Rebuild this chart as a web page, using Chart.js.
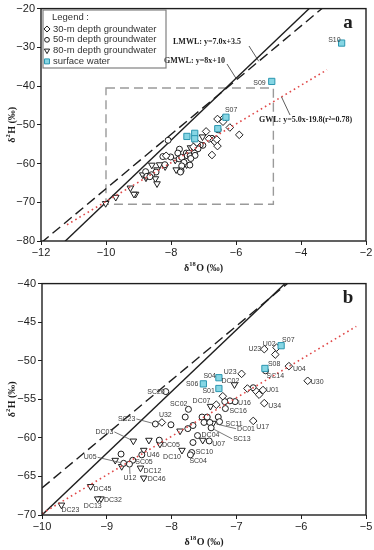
<!DOCTYPE html>
<html>
<head>
<meta charset="utf-8">
<script src="https://cdn.jsdelivr.net/npm/chart.js@4.4.1/dist/chart.umd.min.js"></script>
<style>
  html, body { margin: 0; padding: 0; background: #fff; }
  canvas { display: block; }
</style>
</head>
<body>
<canvas id="chartA" width="374" height="275"></canvas>
<canvas id="chartB" width="374" height="275"></canvas>
<script>
// ---- data ----
// 30-m depth groundwater (diamonds)
const gw30X = [-6.38, -6.40, -6.57, -6.19, -5.90, -6.92, -6.83, -6.69, -6.65, -6.59, -7.21, -6.57, -7.31, -8.15, -6.74];
const gw30Y = [-48.3, -49.2, -48.5, -50.7, -52.6, -51.7, -53.6, -54.0, -54.4, -53.8, -54.6, -55.5, -55.7, -58.0, -57.8];
const gw30Names = ["U02", "", "U23", "U04", "U30", "U23", "", "", "", "U01", "", "U34", "", "U32", "U17"];

// 50-m depth groundwater (circles)
const gw50X = [-6.55, -6.74, -8.09, -7.02, -7.10, -7.18, -7.74, -7.17, -8.25, -8.01, -7.79, -7.75, -7.67, -7.53, -7.45,
               -7.50, -7.41, -7.28, -7.26, -7.39, -7.60, -7.67, -7.42, -8.19, -7.69, -7.71, -8.46, -8.78, -8.74, -8.60, -8.65];
const gw50Y = [-51.3, -53.5, -54.0, -55.3, -55.2, -55.3, -56.3, -56.2, -58.2, -58.3, -57.3, -58.8, -58.4, -57.3, -57.3,
               -58.0, -58.0, -57.3, -57.9, -58.7, -59.7, -60.6, -60.4, -60.3, -61.9, -62.2, -62.2, -62.1, -63.3, -62.9, -63.4];
const gw50Names = ["SC14", "", "SC20", "U16", "", "", "SC02", "SC16", "SC23", "", "", "", "", "", "",
                   "", "", "", "SC11", "SC13", "DC04", "", "U07", "", "SC10", "SC04", "U46", "", "U05", "SC05", "U12"];

// 80-m depth groundwater (triangles)
const gw80X = [-7.03, -7.40, -7.36, -8.59, -8.35, -8.18, -7.87, -7.52, -7.84, -8.43, -8.87, -8.77, -8.48, -8.43, -9.25, -9.09, -9.14, -9.70, -10.01];
const gw80Y = [-53.1, -55.9, -58.1, -60.4, -60.3, -60.8, -59.1, -60.3, -61.6, -61.6, -62.9, -63.7, -63.9, -65.2, -66.3, -67.9, -67.9, -68.7, -70.3];
const gw80Names = ["DC02", "DC07", "DC01", "DC03", "", "DC05", "", "", "DC10", "", "", "", "DC12", "DC46", "DC45", "DC32", "DC13", "DC23", ""];

// surface water (squares)
const swX = [-6.31, -6.56, -7.27, -7.51, -7.27, -4.90, -2.75];
const swY = [-48.05, -51.0, -52.2, -53.0, -53.6, -38.8, -28.9];
const swNames = ["S07", "S08", "S04", "S06", "S01", "S09", "S10"];

// meteoric / groundwater lines y = a*x + b
const lineNames = ["GMWL", "LMWL", "GWL"];
const lineSlope = [8, 7.0, 5.0];
const lineIntercept = [10, 3.5, -19.8];

// axes
const axisA = { xMin: -12, xMax: -2, xStep: 2, yMin: -80, yMax: -20, yStep: 10 };
const axisB = { xMin: -10, xMax: -5, xStep: 1, yMin: -70, yMax: -40, yStep: 5 };

// zoom box of panel a (data units)
const boxX = [-10, -4.85];
const boxY = [-70.5, -40.5];

// ---- styles ----
const SANS = '"Liberation Sans", Arial, sans-serif';
const SERIF = '"Liberation Serif", "Times New Roman", serif';
const INK = "#1e1e1e";

const SERIES = [
  { label: "30-m depth groundwater", xs: gw30X, ys: gw30Y, ns: gw30Names, style: "rectRot", r: 3.8, rot: 0, fill: "#fff", stroke: INK, order: 2 },
  { label: "50-m depth groundwater", xs: gw50X, ys: gw50Y, ns: gw50Names, style: "circle", r: 3.0, rot: 0, fill: "#fff", stroke: INK, order: 2 },
  { label: "80-m depth groundwater", xs: gw80X, ys: gw80Y, ns: gw80Names, style: "triangle", r: 3.8, rot: 180, fill: "#fff", stroke: INK, order: 2 },
  { label: "surface water", xs: swX, ys: swY, ns: swNames, style: "rect", r: 4.4, rot: 0, fill: "#86d6e4", stroke: "#2b96b0", order: 1 }
];

// label placement: [align, dx, dy, leader]
const labelsA = {
  "S07": ["l", -1, -7], "S09": ["r", -6, 2], "S10": ["r", -1, -3]
};
const labelsB = {
  "S07": ["l", 1, -6], "U02": ["r", -1, -4], "U23": ["r", -3, 0], "S08": ["l", 3, -4], "SC14": ["l", 1, 5],
  "U04": ["l", 4, 3], "U30": ["l", 3, 1], "U23#2": ["r", -5, -2], "S04": ["r", -3, -1.5], "DC02": ["l", -13, -4],
  "S06": ["r", -5, 0.5], "S01": ["r", -4, 2.5], "U01": ["l", 3, 0], "SC20": ["r", -1, 0.5], "U34": ["l", 4, 3],
  "U16": ["l", 3, 1], "DC07": ["r", 0, -5], "SC02": ["r", -1, -5], "SC16": ["l", 4, 3], "SC23": ["r", -20, -5, true],
  "U32": ["l", -3, -7], "SC11": ["l", 6, 2], "DC01": ["l", 24, 5.5, true], "U17": ["l", 3, 6], "SC13": ["l", 22, 11, true],
  "DC03": ["r", -20, -9, true], "DC04": ["l", 4, 0], "DC05": ["l", 2, 1], "U07": ["l", 3, 3], "DC10": ["r", -1, 7],
  "SC10": ["l", 4, 0], "SC04": ["l", -1, 6], "U46": ["l", 5, 0], "U05": ["r", -27, -6, true], "SC05": ["l", 2.5, 2],
  "U12": ["c", 0.5, 14, true], "DC12": ["l", 3, 3], "DC46": ["l", 4, 1], "DC45": ["l", 3, 3], "DC32": ["l", 3, 1],
  "DC13": ["r", 4, 7], "DC23": ["l", 0, 5]
};

function scatterSets(ax) {
  return SERIES.map(s => ({
    type: "scatter",
    label: s.label,
    data: s.xs.map((x, k) => ({ x: x, y: s.ys[k], name: s.ns[k] }))
      .filter(p => p.x >= ax.xMin && p.x <= ax.xMax && p.y >= ax.yMin && p.y <= ax.yMax),
    pointStyle: s.style,
    pointRadius: s.r,
    pointRotation: s.rot,
    backgroundColor: s.fill,
    borderColor: s.stroke,
    borderWidth: 1,
    order: s.order
  }));
}

function lineSet(i, x0, x1, style) {
  return Object.assign({
    type: "line",
    label: lineNames[i],
    data: [
      { x: x0, y: lineSlope[i] * x0 + lineIntercept[i] },
      { x: x1, y: lineSlope[i] * x1 + lineIntercept[i] }
    ],
    pointRadius: 0,
    fill: false,
    tension: 0
  }, style);
}

const solidBlack = { borderColor: INK, borderWidth: 1.4, order: 5 };
const dashBlack = { borderColor: INK, borderWidth: 1.4, borderDash: [10, 5], order: 5 };
const redDots = { borderColor: "#e04848", borderWidth: 1.6, borderDash: [1.6, 3.2], order: 0 };

// superscript isotope title, e.g. δ18O (‰)
function isoTitle(ctx, sup, rest, x, y, vertical) {
  ctx.save();
  ctx.translate(x, y);
  if (vertical) ctx.rotate(-Math.PI / 2);
  const big = "bold 10px " + SERIF, small = "bold 6.5px " + SERIF;
  ctx.font = big;
  const w1 = ctx.measureText("δ").width, w3 = ctx.measureText(rest).width;
  ctx.font = small;
  const w2 = ctx.measureText(sup).width + 0.5;
  let cx = -(w1 + w2 + w3) / 2;
  ctx.fillStyle = INK;
  ctx.textAlign = "left";
  ctx.textBaseline = "alphabetic";
  ctx.font = big; ctx.fillText("δ", cx, 3.5); cx += w1;
  ctx.font = small; ctx.fillText(sup, cx, -1); cx += w2;
  ctx.font = big; ctx.fillText(rest, cx, 3.5);
  ctx.restore();
}

const decor = {
  id: "decor",
  beforeDatasetsDraw(chart, args, o) {
    const { ctx, scales: { x, y } } = chart;
    if (o.box) {
      ctx.save();
      ctx.strokeStyle = "#9a9a9a";
      ctx.lineWidth = 1.4;
      ctx.setLineDash([9, 5]);
      const x0 = x.getPixelForValue(boxX[0]), x1 = x.getPixelForValue(boxX[1]);
      const y0 = y.getPixelForValue(boxY[1]), y1 = y.getPixelForValue(boxY[0]);
      ctx.strokeRect(x0, y0, x1 - x0, y1 - y0);
      ctx.restore();
    }
  },
  afterDatasetsDraw(chart, args, o) {
    const { ctx, scales: { x, y } } = chart;
    // point labels
    ctx.save();
    ctx.font = "7px " + SANS;
    ctx.fillStyle = "#3a3a3a";
    ctx.strokeStyle = "#555";
    ctx.lineWidth = 0.8;
    ctx.textBaseline = "middle";
    const seen = {};
    chart.data.datasets.forEach((ds, di) => {
      if (ds.type !== "scatter") return;
      const meta = chart.getDatasetMeta(di);
      ds.data.forEach((p, k) => {
        if (!p.name) return;
        seen[p.name] = (seen[p.name] || 0) + 1;
        const key = seen[p.name] > 1 ? p.name + "#" + seen[p.name] : p.name;
        const st = o.labels[key];
        if (!st) return;
        const el = meta.data[k];
        const tx = el.x + st[1], ty = el.y + st[2];
        const w = ctx.measureText(p.name).width;
        ctx.textAlign = st[0] === "l" ? "left" : st[0] === "r" ? "right" : "center";
        ctx.fillText(p.name, tx, ty);
        if (st[3]) {
          let lx = st[0] === "l" ? tx - 1 : st[0] === "r" ? tx + 1 : tx;
          let ly = st[0] === "c" ? ty - 4 : ty;
          const dx = el.x - lx, dy = el.y - ly, d = Math.hypot(dx, dy);
          ctx.beginPath();
          ctx.moveTo(lx, ly);
          ctx.lineTo(el.x - dx / d * 3.5, el.y - dy / d * 3.5);
          ctx.stroke();
        }
      });
    });
    ctx.restore();
  },
  afterDraw(chart, args, o) {
    const { ctx, chartArea: a, scales: { x, y } } = chart;
    ctx.save();
    // frame
    ctx.strokeStyle = INK;
    ctx.lineWidth = 1.4;
    ctx.strokeRect(a.left, a.top, a.right - a.left, a.bottom - a.top);

    // panel letter
    ctx.fillStyle = INK;
    ctx.font = "bold 19px " + SERIF;
    ctx.textAlign = "center";
    ctx.textBaseline = "middle";
    ctx.fillText(o.letter, a.right - 18, a.top + 14);

    // axis titles
    isoTitle(ctx, "18", "O (‰)", (a.left + a.right) / 2, a.bottom + 26, false);
    isoTitle(ctx, "2", "H (‰)", 11, (a.top + a.bottom) / 2, true);

    // line equations
    if (o.notes) {
      ctx.font = "bold 8px " + SERIF;
      ctx.textAlign = "left";
      ctx.textBaseline = "middle";
      ctx.strokeStyle = "#333";
      ctx.lineWidth = 0.8;
      o.notes.forEach(n => {
        ctx.fillText(n.text, n.x, n.y);
        const i = lineNames.indexOf(n.line);
        const ex = x.getPixelForValue(n.at), ey = y.getPixelForValue(lineSlope[i] * n.at + lineIntercept[i]);
        ctx.beginPath();
        ctx.moveTo(n.lx, n.ly);
        ctx.lineTo(ex, ey);
        ctx.stroke();
      });
    }

    // legend
    if (o.legend) {
      const L = o.legend;
      ctx.strokeStyle = "#808080";
      ctx.lineWidth = 1.2;
      ctx.strokeRect(L.x, L.y, L.w, L.h);
      ctx.fillStyle = "#333";
      ctx.font = "9.5px " + SANS;
      ctx.textAlign = "left";
      ctx.textBaseline = "middle";
      ctx.fillText("Legend :", L.x + 9, L.y + 7);
      SERIES.forEach((s, i) => {
        const cy = L.y + 19 + i * 10.8;
        ctx.save();
        ctx.fillStyle = s.fill;
        ctx.strokeStyle = s.stroke;
        ctx.lineWidth = 1;
        Chart.helpers.drawPoint(ctx, { pointStyle: s.style, radius: s.r * 0.8, rotation: s.rot, borderWidth: 1 }, L.x + 4, cy);
        ctx.restore();
        ctx.fillStyle = "#333";
        ctx.fillText(s.label, L.x + 10, cy);
      });
    }
    ctx.restore();
  }
};

function makePanel(id, ax, sets, fit, decorOpts) {
  const tickFont = { family: SANS, size: 11 };
  const fmt = v => String(v).replace("-", "\u2212");
  return new Chart(document.getElementById(id), {
    type: "scatter",
    data: { datasets: sets },
    options: {
      responsive: false,
      animation: false,
      events: [],
      layout: { padding: { top: fit.top, right: fit.right, left: 0, bottom: 0 } },
      plugins: { legend: { display: false }, tooltip: { enabled: false }, decor: decorOpts },
      scales: {
        x: {
          type: "linear", min: ax.xMin, max: ax.xMax,
          ticks: { stepSize: ax.xStep, color: INK, font: tickFont, padding: 1, callback: fmt, maxRotation: 0 },
          grid: { drawOnChartArea: false, drawTicks: true, tickLength: 4, color: INK },
          border: { display: false },
          afterFit: s => { s.height = fit.xh; }
        },
        y: {
          type: "linear", min: ax.yMin, max: ax.yMax,
          ticks: { stepSize: ax.yStep, color: INK, font: tickFont, padding: 2, callback: fmt },
          grid: { drawOnChartArea: false, drawTicks: true, tickLength: 4, color: INK },
          border: { display: false },
          afterFit: s => { s.width = fit.yw; }
        }
      }
    },
    plugins: [decor]
  });
}

// panel a
makePanel("chartA", axisA, [
  lineSet(0, -12, -2, solidBlack),
  lineSet(1, -12, -2, dashBlack),
  lineSet(2, -11.2, -3.2, redDots),
  ...scatterSets(axisA)
], { top: 8, right: 8, xh: 34, yw: 41 }, {
  letter: "a",
  box: true,
  labels: labelsA,
  legend: { x: 43, y: 10, w: 123, h: 58 },
  notes: [
    { text: "LMWL: y=7.0x+3.5", x: 173, y: 42, line: "LMWL", at: -5.3, lx: 249, ly: 46 },
    { text: "GMWL: y=8x+10", x: 164, y: 61, line: "GMWL", at: -6.0, lx: 227, ly: 64 },
    { text: "GWL: y=5.0x-19.8(r²=0.78)", x: 259, y: 120, line: "GWL", at: -4.6, lx: 290, ly: 115 }
  ]
});

// panel b
makePanel("chartB", axisB, [
  lineSet(0, -10, -5, solidBlack),
  lineSet(1, -10, -5, dashBlack),
  lineSet(2, -10, -5.15, redDots),
  ...scatterSets(axisB)
], { top: 7, right: 8, xh: 35, yw: 42 }, {
  letter: "b",
  box: false,
  labels: labelsB
});
</script>
</body>
</html>
